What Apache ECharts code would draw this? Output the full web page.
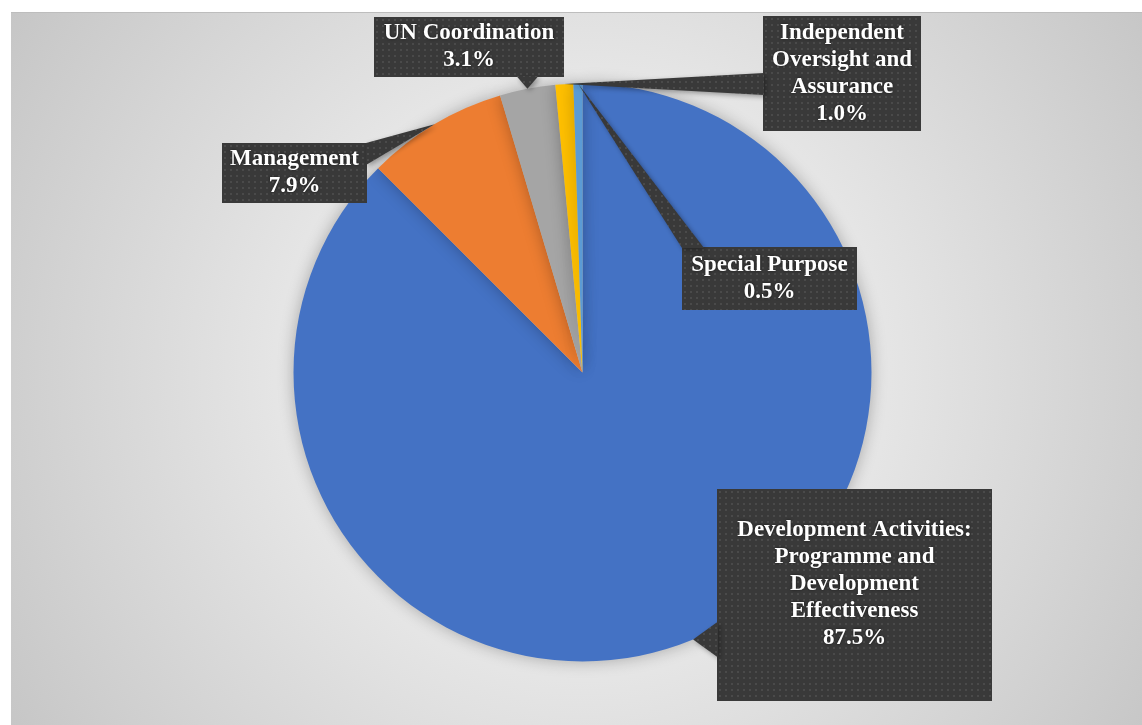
<!DOCTYPE html>
<html><head><meta charset="utf-8">
<script src="https://cdn.jsdelivr.net/npm/echarts@6/dist/echarts.min.js"></script>
<style>
html,body{margin:0;padding:0;background:#fff;width:1142px;height:725px;overflow:hidden}
#c{position:absolute;left:11px;top:12px;width:1131px;height:713px;box-sizing:border-box;border-top:1px solid #bdbdbd;
background:radial-gradient(circle farthest-corner at 50.5% 50.5%, #ffffff 0%, #c6c6c6 100%);}
</style></head><body><div id="c"></div>
<script>
// ---- data ----
const categories = [
  'Development Activities:\nProgramme and\nDevelopment\nEffectiveness',
  'Management',
  'UN Coordination',
  'Independent\nOversight and\nAssurance',
  'Special Purpose'
];
const values = [87.5, 7.9, 3.1, 1.0, 0.5];
const colors = ['#4472C4', '#ED7D31', '#A5A5A5', '#FFC000', '#5B9BD5'];

// ---- label box layout (chart px): [centerX, top, contentWidth, padTop, padX, padBottom, wedgeHalfWidth]
const labelBoxes = [
  [843.5, 476, 255, 28, 10, 49, 18],
  [283.5, 130, 129, 3, 8, 3, 11],
  [458, 4, 170, 3, 10, 3, 11],
  [831, 3, 140, 4, 9, 3, 11],
  [758.5, 234, 157, 4.5, 9, 4.5, 11]
];
const LINE_H = 27;

function makeTile(w, h) {
  const cv = document.createElement('canvas');
  cv.width = Math.max(1, Math.round(w)); cv.height = Math.max(1, Math.round(h));
  const ctx = cv.getContext('2d');
  ctx.fillStyle = '#393939'; ctx.fillRect(0, 0, cv.width, cv.height);
  ctx.fillStyle = '#4a4a4a';
  for (let y = 2; y < cv.height; y += 6) for (let x = 2; x < cv.width; x += 6) ctx.fillRect(x, y, 2, 2);
  return cv;
}
const smallTile = makeTile(6, 6);

const boxRects = labelBoxes.map((b, i) => {
  const lines = categories[i].split('\n').length + 1;
  const w = b[2] + 2 * b[4];
  const h = lines * LINE_H + b[3] + b[5];
  return { x0: b[0] - w / 2, x1: b[0] + w / 2, y0: b[1], y1: b[1] + h, w, h, hw: b[6] };
});

const pieData = categories.map((name, i) => {
  const b = labelBoxes[i], r = boxRects[i];
  return {
    name, value: values[i],
    itemStyle: { color: colors[i] },
    label: { width: b[2], overflow: 'none', padding: [b[3], b[4], b[5], b[4]], backgroundColor: { image: makeTile(r.w, r.h) } }
  };
});

const tips = [];
const chart = echarts.init(document.getElementById('c'), null, { renderer: 'canvas' });
chart.setOption({
  animation: false,
  backgroundColor: 'transparent',
  series: [{
    type: 'pie',
    center: [571.5, 359.5],
    radius: 289,
    startAngle: 90,
    clockwise: true,
    avoidLabelOverlap: false,
    silent: true,
    itemStyle: { shadowBlur: 16, shadowColor: 'rgba(0,0,0,0.28)' },
    label: {
      show: true, position: 'outside', overflow: 'none',
      formatter: p => p.name + '\n' + p.percent.toFixed(1) + '%',
      color: '#ffffff',
      fontFamily: '"Liberation Serif","Times New Roman",serif',
      fontWeight: 'bold', fontSize: 23, lineHeight: LINE_H,
      align: 'center',
      textShadowColor: 'rgba(0,0,0,0.6)', textShadowBlur: 3,
      shadowColor: 'rgba(0,0,0,0.45)', shadowBlur: 6, shadowOffsetX: 3, shadowOffsetY: 3
    },
    labelLine: { show: true, lineStyle: { opacity: 0 } },
    labelLayout: function (params) {
      const b = labelBoxes[params.dataIndex];
      if (params.labelLinePoints && params.labelLinePoints[0]) tips[params.dataIndex] = params.labelLinePoints[0];
      return { x: b[0], y: b[1], align: 'center', verticalAlign: 'top' };
    },
    data: pieData
  }]
});

function buildWedges() {
  let data = null;
  try { data = chart.getModel().getSeriesByIndex(0).getData(); } catch (e) { data = null; }
  const elements = [];
  for (let i = 0; i < categories.length; i++) {
    let tip = null;
    if (data) {
      const lay = data.getItemLayout(i);
      if (lay && lay.r != null) {
        const mid = (lay.startAngle + lay.endAngle) / 2;
        tip = [lay.cx + lay.r * Math.cos(mid), lay.cy + lay.r * Math.sin(mid)];
      }
    }
    if (!tip && tips[i]) tip = tips[i];
    if (!tip) continue;
    const r = boxRects[i], hw = r.hw;
    const dx = tip[0] < r.x0 ? r.x0 - tip[0] : (tip[0] > r.x1 ? tip[0] - r.x1 : 0);
    const dy = tip[1] < r.y0 ? r.y0 - tip[1] : (tip[1] > r.y1 ? tip[1] - r.y1 : 0);
    let b1, b2;
    if (dx >= dy) {
      const sx = tip[0] < r.x0 ? r.x0 + 1 : r.x1 - 1;
      const yc = Math.min(Math.max(tip[1], r.y0 + hw), r.y1 - hw);
      b1 = [sx, yc - hw]; b2 = [sx, yc + hw];
    } else {
      const sy = tip[1] < r.y0 ? r.y0 + 1 : r.y1 - 1;
      const xc = Math.min(Math.max(tip[0], r.x0 + hw), r.x1 - hw);
      b1 = [xc - hw, sy]; b2 = [xc + hw, sy];
    }
    elements.push({
      type: 'polygon', silent: true, z: 10,
      shape: { points: [tip, b1, b2] },
      style: { fill: { image: smallTile, repeat: 'repeat' }, shadowBlur: 5, shadowColor: 'rgba(0,0,0,0.35)', shadowOffsetX: 2, shadowOffsetY: 2 }
    });
  }
  chart.setOption({ graphic: { elements } });
}
buildWedges();
</script>
</body></html>
